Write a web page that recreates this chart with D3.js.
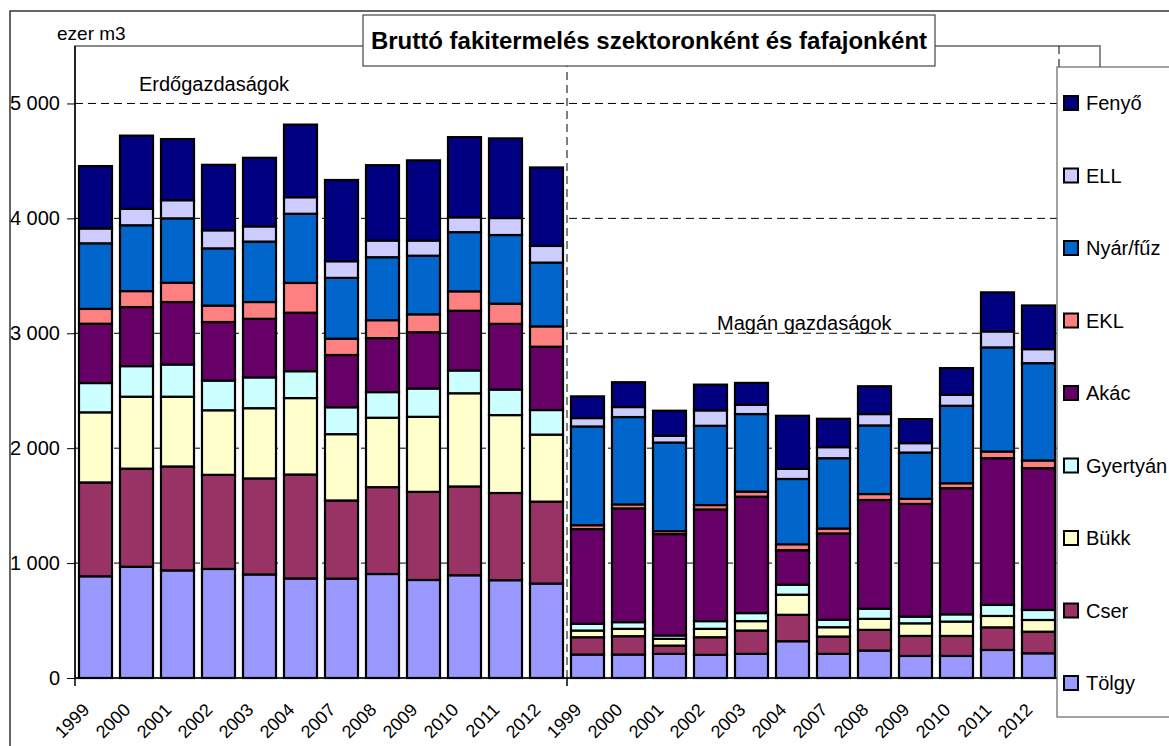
<!DOCTYPE html>
<html lang="hu">
<head>
    <meta charset="UTF-8">
    <title>Bruttó fakitermelés</title>
    <script src="https://d3js.org/d3.v7.min.js"></script>
    <style>
        html, body { margin: 0; padding: 0; background: #fff; overflow: hidden; }
        text { font-family: "Liberation Sans", Arial, sans-serif; fill: #000; }
    </style>
</head>
<body>
<script>
    // years on the category axis (same list for both sectors)
    const years = ["1999", "2000", "2001", "2002", "2003", "2004", "2007", "2008", "2009", "2010", "2011", "2012"];
    const sectors = ["Erdőgazdaságok", "Magán gazdaságok"];
    const species = ["Tölgy", "Cser", "Bükk", "Gyertyán", "Akác", "EKL", "Nyár/fűz", "ELL", "Fenyő"];
    const colors = ["#9999FF", "#993366", "#FFFFCC", "#CCFFFF", "#660066", "#FF8080", "#0066CC", "#CCCCFF", "#000080"];
    const yTicks = [0, 1000, 2000, 3000, 4000, 5000];

    // ezer m3, first 12 = Erdőgazdaságok, last 12 = Magán gazdaságok
    const tolgy    = [885, 968, 936, 949, 901, 866, 865, 905, 853, 894, 851, 822,  204, 204, 210, 201, 210, 320, 210, 239, 192, 192, 244, 215];
    const cser     = [817, 854, 905, 819, 836, 905, 680, 756, 767, 773, 759, 713,  151, 160, 72, 154, 203, 230, 151, 180, 174, 174, 197, 188];
    const bukk     = [610, 626, 607, 562, 611, 665, 577, 604, 653, 811, 678, 583,  58, 64, 59, 73, 82, 175, 81, 96, 110, 125, 99, 102];
    const gyertyan = [255, 266, 280, 258, 268, 234, 234, 223, 246, 198, 222, 214,  59, 58, 29, 67, 70, 87, 65, 88, 58, 63, 96, 87];
    const akac     = [516, 514, 544, 510, 510, 509, 455, 470, 490, 520, 572, 551,  824, 990, 882, 972, 1013, 300, 751, 946, 981, 1098, 1277, 1234];
    const ekl      = [129, 139, 168, 143, 146, 259, 142, 156, 156, 169, 175, 177,  34, 35, 26, 38, 44, 52, 43, 52, 44, 43, 58, 67];
    const nyar     = [571, 573, 560, 498, 526, 602, 529, 548, 510, 515, 598, 555,  859, 760, 771, 690, 675, 568, 612, 597, 403, 674, 906, 847];
    const ell      = [129, 143, 158, 157, 132, 144, 145, 145, 132, 129, 148, 145,  73, 87, 59, 134, 81, 88, 96, 99, 82, 95, 139, 122];
    const fenyo    = [543, 637, 532, 570, 597, 632, 707, 656, 698, 698, 693, 683,  189, 216, 218, 224, 190, 462, 247, 242, 209, 233, 340, 380];
    const seriesValues = [tolgy, cser, bukk, gyertyan, akac, ekl, nyar, ell, fenyo];

    const W = 1169, H = 746;
    const svg = d3.select("body").append("svg").attr("width", W).attr("height", H);

    // category keys: 12 + 12 bars and one empty slot at the end
    const keys = ["E", "M"].flatMap(s => years.map(y => s + y)).concat(["blank"]);
    const rows = keys.slice(0, 24).map((k, i) => {
        const r = { key: k };
        species.forEach((s, j) => r[s] = seriesValues[j][i]);
        return r;
    });

    const x = d3.scaleBand().domain(keys).range([75, 1100]).paddingInner(0.195).paddingOuter(0.0975);
    const y = d3.scaleLinear().domain([0, 5500]).range([678, 46]);
    const color = d3.scaleOrdinal().domain(species).range(colors);
    const cellLeft = k => x(k) - x.step() * x.paddingInner() / 2;

    // outer chart border
    svg.append("rect").attr("x", 10).attr("y", 11).attr("width", W).attr("height", H)
        .attr("fill", "#fff").attr("stroke", "#333").attr("stroke-width", 1.5);

    // plot area frame
    svg.append("rect").attr("x", 75).attr("y", 46).attr("width", 1025).attr("height", 632)
        .attr("fill", "none").attr("stroke", "#8c8c8c").attr("stroke-width", 2);

    // dashed gridlines
    svg.append("g").selectAll("line").data(yTicks.slice(1)).join("line")
        .attr("x1", 75).attr("x2", 1100).attr("y1", d => y(d)).attr("y2", d => y(d))
        .attr("stroke", "#000").attr("stroke-dasharray", "8,5");
    const sep = [cellLeft(keys[12]), cellLeft(keys[24])];
    svg.append("g").selectAll("line").data(sep).join("line")
        .attr("x1", d => d).attr("x2", d => d).attr("y1", 46).attr("y2", 678)
        .attr("stroke", "#000").attr("stroke-dasharray", "8,5");

    // stacked bars
    const stack = d3.stack().keys(species)(rows);
    svg.append("g").selectAll("g").data(stack).join("g")
        .attr("fill", d => color(d.key))
        .selectAll("rect").data(d => d).join("rect")
        .attr("x", d => x(d.data.key))
        .attr("width", x.bandwidth())
        .attr("y", d => y(d[1]))
        .attr("height", d => y(d[0]) - y(d[1]))
        .attr("stroke", "#000").attr("stroke-width", 2.2);

    // y axis
    const hu = d3.formatLocale({ decimal: ",", thousands: " ", grouping: [3], currency: ["", ""] });
    const yAxis = svg.append("g").attr("transform", "translate(75,0)")
        .call(d3.axisLeft(y).tickValues(yTicks).tickFormat(hu.format(",d")).tickSize(8).tickPadding(7));
    yAxis.select(".domain").attr("d", "M0,46V678").attr("stroke", "#000").attr("stroke-width", 1.5);
    yAxis.selectAll("text").attr("font-size", 20).attr("font-family", "Liberation Sans, Arial, sans-serif");

    // x axis
    const xAxis = svg.append("g").attr("transform", "translate(0,678)")
        .call(d3.axisBottom(x).tickSize(0).tickFormat(k => k === "blank" ? "" : k.slice(1)));
    xAxis.select(".domain").attr("d", "M75,0H1100").attr("stroke", "#000").attr("stroke-width", 1.5);
    xAxis.selectAll("text")
        .attr("font-size", 18).attr("font-family", "Liberation Sans, Arial, sans-serif")
        .attr("text-anchor", "end").attr("x", 0).attr("y", 0).attr("dy", 0)
        .attr("transform", "translate(-5,33) rotate(-45)");
    xAxis.append("g").selectAll("line").data([75].concat(sep)).join("line")
        .attr("x1", d => d).attr("x2", d => d).attr("y1", 0).attr("y2", 8)
        .attr("stroke", "#000").attr("stroke-width", 1.5);

    // texts
    svg.append("text").attr("x", 57).attr("y", 40).attr("font-size", 19).text("ezer m3");
    svg.append("text").attr("x", 139).attr("y", 91).attr("font-size", 20).text(sectors[0]);
    svg.append("text").attr("x", 717).attr("y", 330).attr("font-size", 20).text(sectors[1]);

    // title box
    svg.append("rect").attr("x", 363).attr("y", 15).attr("width", 572).attr("height", 51)
        .attr("fill", "#fff").attr("stroke", "#444").attr("stroke-width", 1.2);
    svg.append("text").attr("x", 649).attr("y", 49).attr("text-anchor", "middle")
        .attr("font-size", 24).attr("font-weight", "bold")
        .text("Bruttó fakitermelés szektoronként és fafajonként");

    // legend
    const legend = svg.append("g");
    legend.append("rect").attr("x", 1057).attr("y", 67).attr("width", 140).attr("height", 650)
        .attr("fill", "#fff").attr("stroke", "#666").attr("stroke-width", 1.2);
    const items = legend.selectAll("g.item").data(species.slice().reverse()).join("g")
        .attr("class", "item")
        .attr("transform", (d, i) => `translate(1064,${103 + i * 72.5})`);
    items.append("rect").attr("x", 0).attr("y", -7).attr("width", 14).attr("height", 14)
        .attr("fill", d => color(d)).attr("stroke", "#000").attr("stroke-width", 2);
    items.append("text").attr("x", 22).attr("y", 7).attr("font-size", 20).text(d => d);
</script>
</body>
</html>
